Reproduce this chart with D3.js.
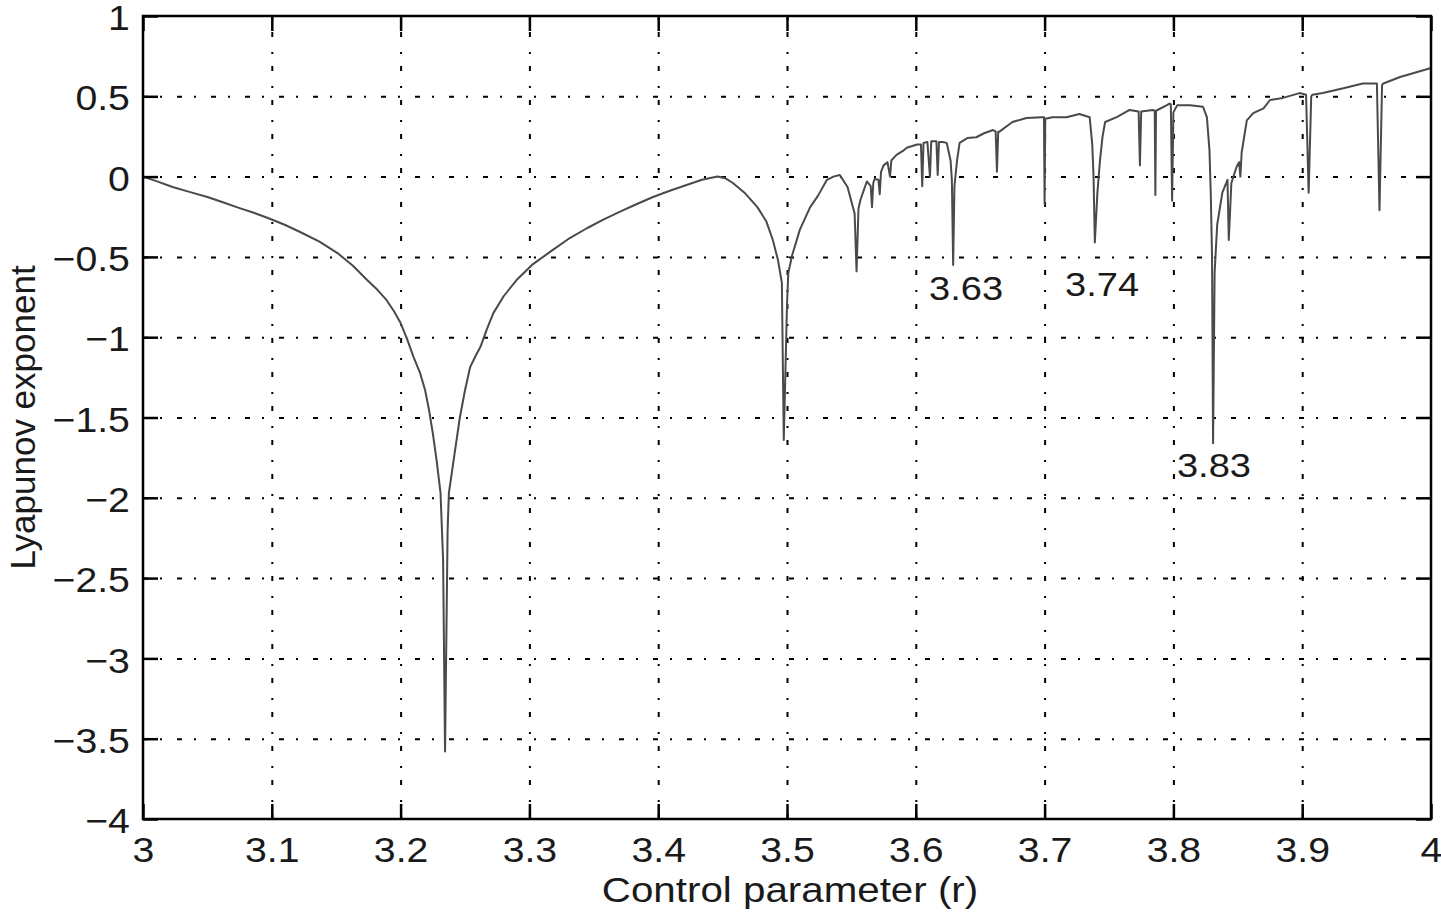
<!DOCTYPE html>
<html>
<head>
<meta charset="utf-8">
<script src="https://cdn.jsdelivr.net/npm/d3@7"></script>
<style>
  html, body { margin: 0; padding: 0; background: #fff; }
  svg { display: block; font-family: "Liberation Sans", Arial, sans-serif; }
</style>
</head>
<body>
<div id="chart"></div>
<script>
// values (r, Lyapunov exponent)
const rValues = [
  3.000, 3.011, 3.023, 3.036, 3.050, 3.062, 3.075, 3.086, 3.097, 3.110,
  3.122, 3.137, 3.151, 3.163, 3.174, 3.182, 3.189, 3.195, 3.200, 3.205,
  3.210, 3.215, 3.219, 3.222, 3.225, 3.228, 3.231, 3.233, 3.2345, 3.2365,
  3.2375, 3.242, 3.246, 3.250, 3.254, 3.258, 3.262, 3.267, 3.272, 3.280,
  3.290, 3.302, 3.316, 3.330, 3.345, 3.357, 3.370, 3.383, 3.396, 3.409,
  3.422, 3.434, 3.446, 3.452, 3.458, 3.467, 3.477, 3.484, 3.489, 3.493,
  3.496, 3.4975, 3.500, 3.501, 3.504, 3.510, 3.514, 3.518, 3.524, 3.531,
  3.536, 3.541, 3.547, 3.5525, 3.554, 3.5555, 3.557, 3.562, 3.565, 3.566,
  3.567, 3.568, 3.571, 3.572, 3.573, 3.575, 3.578, 3.580, 3.581, 3.585,
  3.590, 3.593, 3.601, 3.604, 3.605, 3.606, 3.609, 3.611, 3.612, 3.616,
  3.617, 3.618, 3.621, 3.624, 3.627, 3.628, 3.629, 3.630, 3.632, 3.634,
  3.640, 3.647, 3.653, 3.660, 3.662, 3.663, 3.664, 3.665, 3.675, 3.686,
  3.698, 3.6995, 3.700, 3.7005, 3.706, 3.717, 3.727, 3.735, 3.737, 3.738,
  3.739, 3.741, 3.743, 3.745, 3.747, 3.756, 3.766, 3.773, 3.774, 3.775,
  3.784, 3.7855, 3.786, 3.7865, 3.795, 3.797, 3.798, 3.799, 3.800, 3.803,
  3.813, 3.823, 3.826, 3.828, 3.829, 3.830, 3.8308, 3.832, 3.834, 3.838,
  3.842, 3.843, 3.845, 3.849, 3.851, 3.852, 3.853, 3.857, 3.862, 3.870,
  3.875, 3.885, 3.898, 3.903, 3.905, 3.907, 3.908, 3.916, 3.932, 3.947,
  3.958, 3.960, 3.962, 3.963, 3.976, 4.000
];
const lyapunov = [
  0.000, -0.030, -0.065, -0.095, -0.127, -0.160, -0.196, -0.225, -0.258, -0.300,
  -0.345, -0.405, -0.476, -0.555, -0.644, -0.705, -0.768, -0.840, -0.912, -1.010,
  -1.123, -1.220, -1.329, -1.450, -1.597, -1.770, -1.970, -2.387, -3.580, -2.200,
  -1.970, -1.720, -1.500, -1.330, -1.186, -1.120, -1.060, -0.950, -0.850, -0.745,
  -0.644, -0.550, -0.469, -0.390, -0.320, -0.270, -0.220, -0.172, -0.127, -0.088,
  -0.052, -0.020, 0.000, -0.010, -0.040, -0.100, -0.190, -0.280, -0.395, -0.520,
  -0.660, -1.640, -0.800, -0.600, -0.490, -0.330, -0.260, -0.190, -0.120, -0.020,
  0.000, 0.010, -0.065, -0.230, -0.590, -0.200, -0.146, -0.030, -0.060, -0.190,
  -0.040, -0.015, -0.020, -0.110, 0.030, 0.070, 0.090, 0.000, 0.100, 0.135,
  0.160, 0.180, 0.200, 0.200, -0.060, 0.210, 0.215, 0.000, 0.220, 0.220,
  0.010, 0.215, 0.215, 0.210, 0.100, -0.020, -0.550, -0.060, 0.100, 0.210,
  0.240, 0.245, 0.270, 0.290, 0.280, 0.030, 0.280, 0.280, 0.340, 0.365,
  0.370, 0.370, -0.170, 0.360, 0.370, 0.370, 0.390, 0.370, 0.200, 0.000,
  -0.410, -0.100, 0.100, 0.250, 0.340, 0.370, 0.415, 0.405, 0.070, 0.405,
  0.415, 0.410, -0.115, 0.410, 0.445, 0.455, 0.450, -0.150, 0.400, 0.445,
  0.445, 0.435, 0.370, 0.165, -0.100, -0.500, -1.660, -0.600, -0.300, -0.100,
  -0.020, -0.395, -0.040, 0.060, 0.090, 0.000, 0.150, 0.350, 0.395, 0.425,
  0.477, 0.490, 0.520, 0.510, -0.100, 0.500, 0.510, 0.520, 0.550, 0.580,
  0.580, -0.210, 0.570, 0.580, 0.620, 0.676
];

const xTicks = [3, 3.1, 3.2, 3.3, 3.4, 3.5, 3.6, 3.7, 3.8, 3.9, 4];
const yTicks = [1, 0.5, 0, -0.5, -1, -1.5, -2, -2.5, -3, -3.5, -4];

const notes = ['3.63', '3.74', '3.83'];
const noteR = [3.639, 3.7446, 3.8315];
const noteY = [-0.768, -0.743, -1.870];

const width = 1441;
const height = 914;
const margin = { top: 16, right: 10, bottom: 95, left: 143 };
const plotW = width - margin.left - margin.right;
const plotH = height - margin.top - margin.bottom;
const tickLen = 15;
const gridDash = '5,12,2,15';
const stretch = 'scale(1.09,1)';

const svg = d3.select('#chart').append('svg')
  .attr('width', width)
  .attr('height', height);

svg.append('rect')
  .attr('width', width)
  .attr('height', height)
  .attr('fill', '#fff');

const g = svg.append('g')
  .attr('transform', `translate(${margin.left},${margin.top})`);

const x = d3.scaleLinear().domain([3, 4]).range([0, plotW]);
const y = d3.scaleLinear().domain([-4, 1]).range([plotH, 0]);

// grid
const gridStyle = sel => {
  sel.select('.domain').remove();
  sel.selectAll('line')
    .attr('stroke', '#000')
    .attr('stroke-width', 2)
    .attr('stroke-dasharray', gridDash);
};

g.append('g')
  .attr('transform', `translate(0,${plotH})`)
  .call(d3.axisBottom(x).tickValues(xTicks.slice(1, -1)).tickSize(-plotH).tickFormat(''))
  .call(gridStyle);

g.append('g')
  .call(d3.axisLeft(y).tickValues(yTicks.slice(1, -1)).tickSize(-plotW).tickFormat(''))
  .call(gridStyle);

// curve
const line = d3.line()
  .x((d, i) => x(rValues[i]))
  .y(d => y(d))
  .curve(d3.curveLinear);

g.append('path')
  .datum(lyapunov)
  .attr('fill', 'none')
  .attr('stroke', '#4a4a4a')
  .attr('stroke-width', 2)
  .attr('stroke-linejoin', 'round')
  .attr('d', line);

// axes and box
const fmt = d3.format('~g');

const axisStyle = sel => {
  sel.select('.domain').remove();
  sel.selectAll('line').attr('stroke', '#000').attr('stroke-width', 2.5);
};

const xAxis = g.append('g')
  .attr('transform', `translate(0,${plotH})`)
  .call(d3.axisBottom(x).tickValues(xTicks).tickSize(-tickLen).tickFormat(fmt))
  .call(axisStyle);
xAxis.selectAll('text')
  .attr('y', 43)
  .attr('dy', 0)
  .attr('transform', stretch)
  .attr('fill', '#1a1a1a')
  .style('font-size', '36px');

const yAxis = g.append('g')
  .call(d3.axisLeft(y).tickValues(yTicks).tickSize(-tickLen).tickFormat(fmt))
  .call(axisStyle);
yAxis.selectAll('text')
  .attr('x', -12)
  .attr('dy', '0.38em')
  .attr('transform', stretch)
  .attr('fill', '#1a1a1a')
  .style('font-size', '36px');

g.append('g')
  .call(d3.axisTop(x).tickValues(xTicks).tickSize(-tickLen).tickFormat(''))
  .call(axisStyle);

g.append('g')
  .attr('transform', `translate(${plotW},0)`)
  .call(d3.axisRight(y).tickValues(yTicks).tickSize(-tickLen).tickFormat(''))
  .call(axisStyle);

g.append('rect')
  .attr('width', plotW)
  .attr('height', plotH)
  .attr('fill', 'none')
  .attr('stroke', '#000')
  .attr('stroke-width', 2.5);

// annotations
g.append('g')
  .selectAll('text')
  .data(notes)
  .join('text')
  .attr('transform', (d, i) => `translate(${x(noteR[i])},${y(noteY[i])}) scale(1.12,1)`)
  .attr('text-anchor', 'middle')
  .attr('fill', '#1a1a1a')
  .style('font-size', '34px')
  .text(d => d);

// labels
svg.append('text')
  .attr('transform', `translate(${margin.left + plotW / 2 + 3},902) scale(1.12,1)`)
  .attr('text-anchor', 'middle')
  .attr('fill', '#1a1a1a')
  .style('font-size', '36px')
  .text('Control parameter (r)');

svg.append('text')
  .attr('transform', `translate(35,${margin.top + plotH / 2}) rotate(-90)`)
  .attr('text-anchor', 'middle')
  .attr('fill', '#1a1a1a')
  .style('font-size', '35px')
  .text('Lyapunov exponent');
</script>
</body>
</html>
